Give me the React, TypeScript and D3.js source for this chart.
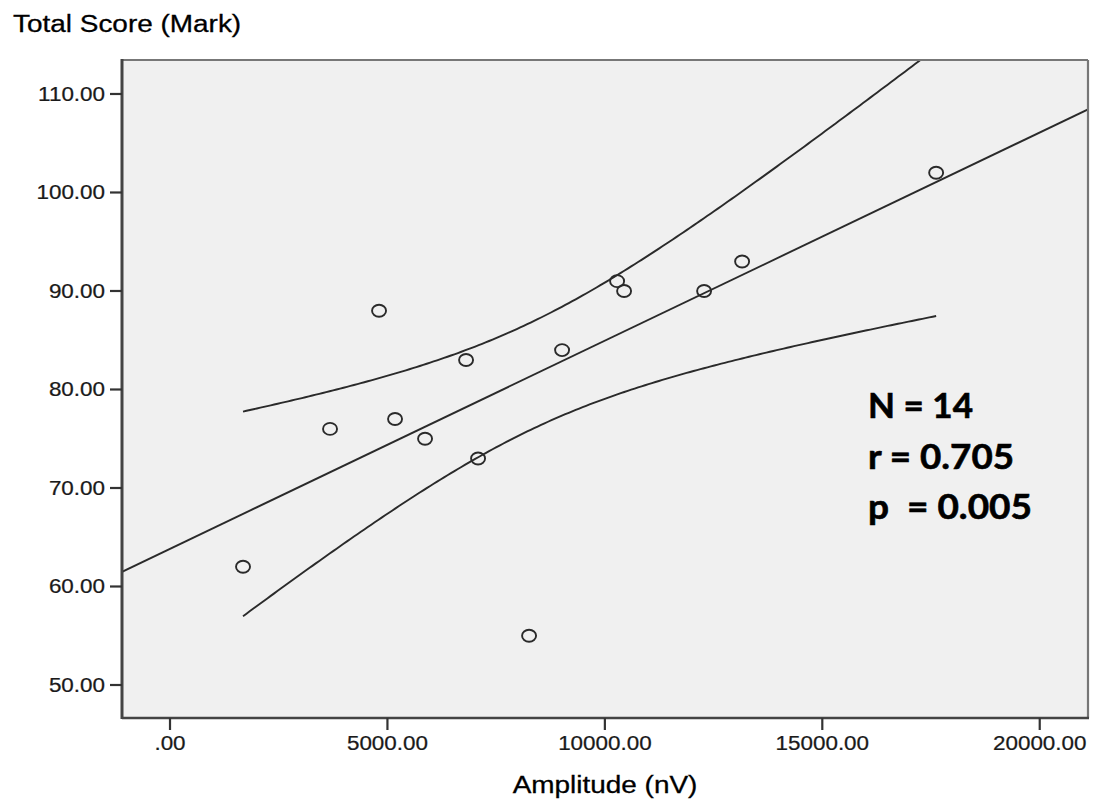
import React from "react";
import * as d3 from "d3";

// Data
const amplitude = [1679, 3680, 4807, 5175, 5865, 6808, 7084, 8257, 9016, 10281, 10442, 12282, 13156, 17618];
const totalScore = [62, 76, 88, 77, 75, 83, 73, 55, 84, 91, 90, 90, 93, 102];

const xTicks = [0, 5000, 10000, 15000, 20000];
const xTickLabels = [".00", "5000.00", "10000.00", "15000.00", "20000.00"];
const yTicks = [50, 60, 70, 80, 90, 100, 110];
const yTickLabels = ["50.00", "60.00", "70.00", "80.00", "90.00", "100.00", "110.00"];

const statLines = ["N = 14", "r = 0.705", "p  = 0.005"];
const statWidths = [105, 146, 164];

const W = 1093;
const H = 805;
const L = 122, R = 1088, T = 60, B = 718;
const SX = 1.15;

export default function App() {
  const x = d3.scaleLinear().domain([-1104, 21110]).range([L, R]);
  const y = d3.scaleLinear().domain([46.65, 113.45]).range([B, T]);

  const n = amplitude.length;
  const mx = d3.mean(amplitude)!;
  const my = d3.mean(totalScore)!;
  let sxx = 0, sxy = 0;
  for (let i = 0; i < n; i++) {
    sxx += (amplitude[i] - mx) ** 2;
    sxy += (amplitude[i] - mx) * (totalScore[i] - my);
  }
  const b1 = sxy / sxx;
  const b0 = my - b1 * mx;
  let sse = 0;
  for (let i = 0; i < n; i++) sse += (totalScore[i] - (b0 + b1 * amplitude[i])) ** 2;
  const s = Math.sqrt(sse / (n - 2));
  const tq = 2.1788; // t(0.975, df=12)
  const fit = (v: number) => b0 + b1 * v;
  const half = (v: number) => tq * s * Math.sqrt(1 / n + (v - mx) ** 2 / sxx);

  const xmin = d3.min(amplitude)!;
  const xmax = d3.max(amplitude)!;
  const samples = d3.range(0, 201).map((k) => xmin + ((xmax - xmin) * k) / 200);
  const line = d3
    .line<[number, number]>()
    .x((d) => x(d[0]))
    .y((d) => y(d[1]));

  const dom = x.domain();
  const fitPath = line([
    [dom[0], fit(dom[0])],
    [dom[1], fit(dom[1])],
  ])!;
  const upperPath = line(samples.map((v) => [v, fit(v) + half(v)] as [number, number]))!;
  const lowerPath = line(samples.map((v) => [v, fit(v) - half(v)] as [number, number]))!;

  const axisFont = "'Liberation Sans', Arial, sans-serif";

  return (
    <div>
      <style>{`body{margin:0}`}</style>
      <svg width={W} height={H} style={{ display: "block", background: "#fff" }}>
        <defs>
          <clipPath id="plotclip">
            <rect x={L} y={T} width={R - L} height={B - T} />
          </clipPath>
        </defs>
        {/* plot background */}
        <rect x={L} y={T} width={R - L} height={B - T} fill="#f0f0f0" />

        <g clipPath="url(#plotclip)" fill="none" stroke="#2a2a2a" strokeWidth={1.9}>
          <path d={fitPath} />
          <path d={upperPath} />
          <path d={lowerPath} />
        </g>

        {/* points */}
        <g fill="none" stroke="#2a2a2a" strokeWidth={1.9}>
          {amplitude.map((a, i) => (
            <ellipse key={i} cx={x(a)} cy={y(totalScore[i])} rx={7} ry={6} />
          ))}
        </g>

        {/* frame */}
        <line x1={L} y1={T} x2={R} y2={T} stroke="#777" strokeWidth={2} />
        <line x1={R} y1={T} x2={R} y2={B} stroke="#777" strokeWidth={2.2} />
        <line x1={L} y1={T - 1} x2={L} y2={B + 1} stroke="#444" strokeWidth={3} />
        <line x1={L} y1={B} x2={R + 1} y2={B} stroke="#444" strokeWidth={2.6} />

        {/* y ticks */}
        {yTicks.map((t, i) => (
          <g key={t}>
            <line x1={L - 12} x2={L} y1={y(t)} y2={y(t)} stroke="#333" strokeWidth={2.2} />
            <text
              transform={`translate(${L - 17},${y(t) + 7}) scale(${SX},1)`}
              textAnchor="end"
              fontFamily={axisFont}
              fontSize={19.5}
              fill="#1a1a1a"
              stroke="#1a1a1a"
              strokeWidth={0.25}
            >
              {yTickLabels[i]}
            </text>
          </g>
        ))}

        {/* x ticks */}
        {xTicks.map((t, i) => (
          <g key={t}>
            <line x1={x(t)} x2={x(t)} y1={B} y2={B + 12} stroke="#333" strokeWidth={2.2} />
            <text
              transform={`translate(${x(t)},${750}) scale(${SX},1)`}
              textAnchor="middle"
              fontFamily={axisFont}
              fontSize={19.5}
              fill="#1a1a1a"
              stroke="#1a1a1a"
              strokeWidth={0.25}
            >
              {xTickLabels[i]}
            </text>
          </g>
        ))}

        {/* axis titles */}
        <text
          transform={`translate(13,32) scale(${SX},1)`}
          fontFamily={axisFont}
          fontSize={24.3}
          fill="#000"
          stroke="#000"
          strokeWidth={0.3}
        >
          Total Score (Mark)
        </text>
        <text
          transform={`translate(605,793) scale(${SX},1)`}
          textAnchor="middle"
          fontFamily={axisFont}
          fontSize={24.3}
          fill="#000"
          stroke="#000"
          strokeWidth={0.3}
        >
          Amplitude (nV)
        </text>

        {/* stats annotation */}
        {statLines.map((s2, i) => (
          <text
            key={i}
            x={868}
            y={418 + i * 50.5}
            fontFamily="Lato, 'Open Sans', sans-serif"
            fontWeight="bold"
            fontSize={35}
            fill="#000"
            stroke="#000"
            strokeWidth={0.6}
            textLength={statWidths[i]}
            lengthAdjust="spacingAndGlyphs"
            style={{ whiteSpace: "pre" }}
          >
            {s2}
          </text>
        ))}
      </svg>
    </div>
  );
}
